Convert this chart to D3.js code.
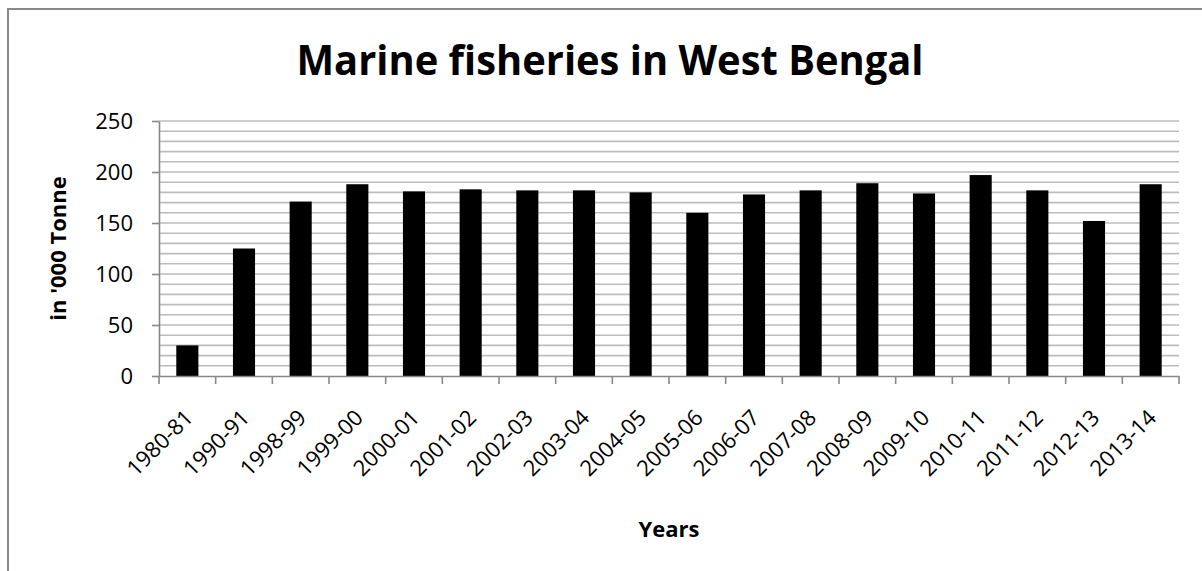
<!DOCTYPE html>
<html lang="en">
  <head>
    <meta charset="utf-8">
    <title>Marine fisheries in West Bengal</title>
    <style>
      body { margin: 0; background: #fff; }
      text { font-family: "Open Sans", sans-serif; fill: #000; }
      .grid line { stroke: #bdbdbd; stroke-width: 1.6px; }
      .axis path, .axis line { stroke: #888; stroke-width: 1.6px; }
    </style>
  </head>
  <body>
<script src="https://cdn.jsdelivr.net/npm/d3@7"></script>
<script>

// chart data
const years = ["1980-81", "1990-91", "1998-99", "1999-00", "2000-01", "2001-02",
               "2002-03", "2003-04", "2004-05", "2005-06", "2006-07", "2007-08",
               "2008-09", "2009-10", "2010-11", "2011-12", "2012-13", "2013-14"]
const catch000 = [30, 125, 171, 188, 181, 183, 182, 182, 180, 160, 178, 182, 189, 179, 197, 182, 152, 188]
const yTicks = [0, 50, 100, 150, 200, 250]
const yMinor = d3.range(10, 251, 10)

const width = 1202, height = 571
const plot = {left: 159, right: 1179, top: 121, bottom: 376}

const svg = d3.select("body").append("svg")
    .attr("width", width)
    .attr("height", height)

// chart area border (runs off the right and bottom edge)
svg.append("rect")
    .attr("x", 8).attr("y", 9)
    .attr("width", 1400).attr("height", 800)
    .attr("fill", "#fff")
    .attr("stroke", "#888")
    .attr("stroke-width", 2)

const x = d3.scaleBand()
    .domain(years)
    .range([plot.left, plot.right])
    .paddingInner(0.61)
    .paddingOuter(0.305)

const y = d3.scaleLinear()
    .domain([0, 250])
    .range([plot.bottom, plot.top])

// horizontal gridlines every 10
svg.append("g").attr("class", "grid")
  .selectAll("line")
  .data(yMinor)
  .enter().append("line")
    .attr("x1", plot.left).attr("x2", plot.right)
    .attr("y1", d => y(d)).attr("y2", d => y(d))

// bars
svg.append("g")
  .selectAll("rect")
  .data(years)
  .enter().append("rect")
    .attr("x", d => x(d))
    .attr("y", (d, i) => y(catch000[i]))
    .attr("width", x.bandwidth())
    .attr("height", (d, i) => y(0) - y(catch000[i]))
    .attr("fill", "#000")

// y axis
const yAxis = svg.append("g")
    .attr("class", "axis")
    .attr("transform", "translate(" + plot.left + ",0)")
    .call(d3.axisLeft(y).tickValues(yTicks).tickSize(7).tickPadding(19).tickSizeOuter(0))
yAxis.selectAll("text")
    .style("font-size", "22px")
    .attr("font-family", null)

// x axis: labels at band centres, tick marks at band edges
const xAxis = svg.append("g")
    .attr("class", "axis")
    .attr("transform", "translate(0," + plot.bottom + ")")
    .call(d3.axisBottom(x).tickSize(0).tickSizeOuter(0).tickFormat(""))

xAxis.selectAll("line.edge")
    .data(d3.range(years.length + 1))
    .enter().append("line")
    .attr("class", "edge")
    .attr("x1", i => plot.left + i * x.step())
    .attr("x2", i => plot.left + i * x.step())
    .attr("y1", 0).attr("y2", 8)

svg.append("g")
  .selectAll("text")
  .data(years)
  .enter().append("text")
    .attr("transform", d => "translate(" + (x(d) + x.bandwidth() / 2 + 7) + "," + 419 + ") rotate(-45)")
    .attr("text-anchor", "end")
    .style("font-size", "22px")
    .text(d => d)

// titles
svg.append("text")
    .attr("x", 610).attr("y", 75)
    .attr("text-anchor", "middle")
    .style("font-size", "41px")
    .style("font-weight", "bold")
    .attr("textLength", 627)
    .attr("lengthAdjust", "spacingAndGlyphs")
    .text("Marine fisheries in West Bengal")

svg.append("text")
    .attr("transform", "translate(66," + (plot.top + plot.bottom) / 2 + ") rotate(-90)")
    .attr("text-anchor", "middle")
    .style("font-size", "22px")
    .style("font-weight", "bold")
    .text("in '000 Tonne")

svg.append("text")
    .attr("x", (plot.left + plot.right) / 2).attr("y", 537)
    .attr("text-anchor", "middle")
    .style("font-size", "22px")
    .style("font-weight", "bold")
    .text("Years")

</script>
  </body>
</html>
